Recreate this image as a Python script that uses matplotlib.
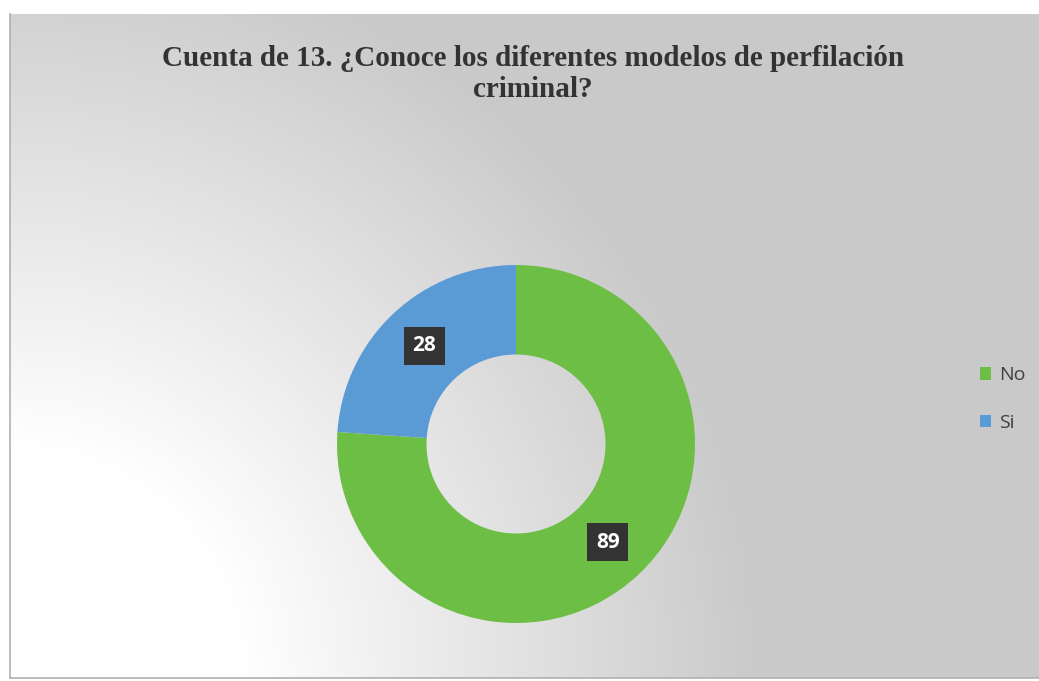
import numpy as np
import matplotlib
matplotlib.use('Agg')
import matplotlib.pyplot as plt
from matplotlib.patches import Patch

# data
labels = ["No", "Si"]
counts = [89, 28]
colors = ["#6DBE45", "#5B9BD5"]
title = "Cuenta de 13. ¿Conoce los diferentes modelos de perfilación\ncriminal?"

W, H = 1039, 681
fig = plt.figure(figsize=(W / 100, H / 100), dpi=100)
fig.patch.set_facecolor("white")

# background with radial fade from the bottom-left corner
bg = fig.add_axes([10 / W, 3 / H, 1029 / W, 664 / H])
yy, xx = np.mgrid[0:664, 0:1029]
d = np.hypot(xx, 664 - yy)
t = np.clip((d - 230) / 520, 0, 1)
g = 1.0 - t * (1.0 - 0.79)
bg.imshow(np.dstack([g, g, g]), aspect="auto", extent=[0, 1, 0, 1], origin="upper")
bg.set_xticks([])
bg.set_yticks([])
for s in bg.spines.values():
    s.set_color("#b0b0b0")
    s.set_linewidth(1.2)
bg.spines["top"].set_visible(False)
bg.spines["right"].set_visible(False)

# donut
cx, cy, r = 516, 444, 179
ax = fig.add_axes([(cx - r) / W, (H - cy - r) / H, 2 * r / W, 2 * r / H])
ax.set_facecolor("none")
wedges, _ = ax.pie(counts, colors=colors, startangle=90, counterclock=False,
                   radius=1, wedgeprops=dict(width=0.5, edgecolor="none"))
ax.set_xlim(-1, 1)
ax.set_ylim(-1, 1)
ax.set_aspect("auto")
ax.axis("off")

for w, c in zip(wedges, counts):
    ang = np.deg2rad((w.theta1 + w.theta2) / 2)
    ax.text(0.75 * np.cos(ang), 0.75 * np.sin(ang), str(c), ha="center", va="center",
            fontsize=15, fontweight="bold", color="white", family="Open Sans",
            bbox=dict(boxstyle="square,pad=0.42", facecolor="#333333", edgecolor="none"))

fig.text(533 / W, 1 - 74 / H, title, ha="center", va="center", fontsize=21,
         fontweight="bold", family="Liberation Serif", color="#333333", linespacing=1.2)

handles = [Patch(facecolor=c, edgecolor="none") for c in colors]
fig.legend(handles, labels, loc="center left", bbox_to_anchor=(962 / W, 1 - 399 / H),
           frameon=False, handlelength=0.6, handleheight=0.6, handletextpad=0.4,
           labelspacing=1.5, prop=dict(family="Open Sans", size=14), labelcolor="#404040")

fig.savefig("out.png", dpi=100)
